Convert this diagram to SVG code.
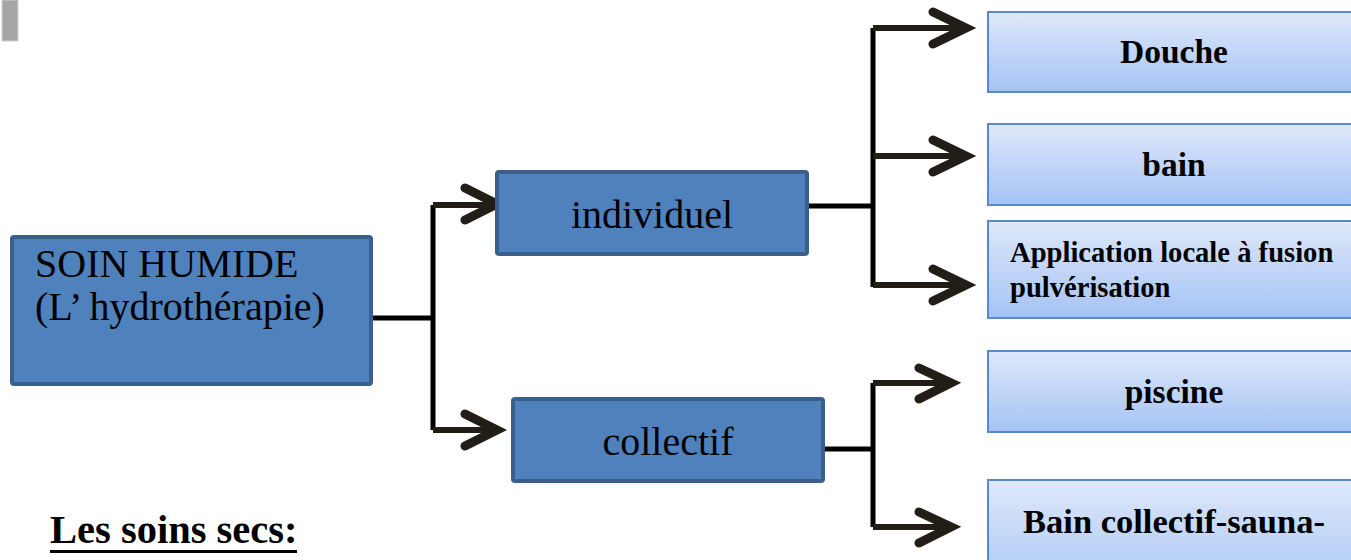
<svg xmlns="http://www.w3.org/2000/svg" width="1351" height="560" viewBox="0 0 1351 560">
<defs>
<linearGradient id="lg" x1="0" y1="0" x2="0" y2="1">
<stop offset="0" stop-color="#DEE8FA"/>
<stop offset="1" stop-color="#A5C3F4"/>
</linearGradient>
<style>
.dark{fill:#4F81BD;stroke:#3A5F8C;stroke-width:4}
.light{fill:url(#lg);stroke:#5B88C6;stroke-width:2}
.reg{font-family:"Liberation Serif","Times New Roman",serif;font-size:40px;fill:#000}
.bold{font-family:"Liberation Serif","Times New Roman",serif;font-weight:bold;font-size:33.5px;fill:#000}
.small{font-size:28.6px}
.line{fill:none;stroke:#000;stroke-width:5}
.shaft{fill:none;stroke:#221E17;stroke-width:6}
.head{fill:none;stroke:#221E17;stroke-width:9;stroke-linecap:round;stroke-linejoin:miter}
</style>
</defs>
<rect x="2" y="0" width="16" height="41" fill="#A6A6A6" stroke="#D0D0D0" stroke-width="1"/>
<g id="connectors">
<path class="line" d="M372 318H433M433 205V430"/>
<path class="shaft" d="M433 205H494M433 430H494"/>
<path class="head" d="M465 188L497 204L465 220M465 414L497 430L465 446"/>
<path class="line" d="M808 206H873M873 28V287"/>
<path class="shaft" d="M873 28H964M873 156H964M873 285H964"/>
<path class="head" d="M933 12L966 28L933 44M933 140L966 156L933 172M933 269L966 285L933 301"/>
<path class="line" d="M824 449H873M873 383V527"/>
<path class="shaft" d="M873 383H948M873 527H948"/>
<path class="head" d="M919 368L951 383L919 399M919 512L951 527L919 543"/>
</g>
<g id="soin-humide">
<rect class="dark" x="12" y="237" width="359" height="147" rx="2"/>
<text class="reg" x="35" y="277">SOIN HUMIDE</text>
<text class="reg" x="35" y="320">(L’ hydrothérapie)</text>
</g>
<g id="individuel">
<rect class="dark" x="497" y="172" width="310" height="82" rx="2"/>
<text class="reg" x="652" y="228" text-anchor="middle">individuel</text>
</g>
<g id="collectif">
<rect class="dark" x="513" y="399" width="310" height="82" rx="2"/>
<text class="reg" x="668" y="455" text-anchor="middle">collectif</text>
</g>
<g id="douche">
<rect class="light" x="988" y="12" width="380" height="80"/>
<text class="bold" x="1174" y="63" text-anchor="middle">Douche</text>
</g>
<g id="bain">
<rect class="light" x="988" y="124" width="380" height="81"/>
<text class="bold" x="1174" y="176" text-anchor="middle">bain</text>
</g>
<g id="application">
<rect class="light" x="988" y="221" width="380" height="97"/>
<text class="bold small" x="1010" y="262">Application locale à fusion</text>
<text class="bold small" x="1010" y="297">pulvérisation</text>
</g>
<g id="piscine">
<rect class="light" x="988" y="351" width="380" height="81"/>
<text class="bold" x="1174" y="403" text-anchor="middle">piscine</text>
</g>
<g id="bain-collectif">
<rect class="light" x="988" y="480" width="380" height="120"/>
<text class="bold" x="1174" y="533" text-anchor="middle" style="font-size:34.5px">Bain collectif-sauna-</text>
</g>
<g id="les-soins-secs">
<text class="bold" x="50" y="543" style="font-size:40.5px">Les soins secs:</text>
<rect x="50" y="550" width="247" height="3" fill="#000"/>
</g>
</svg>
